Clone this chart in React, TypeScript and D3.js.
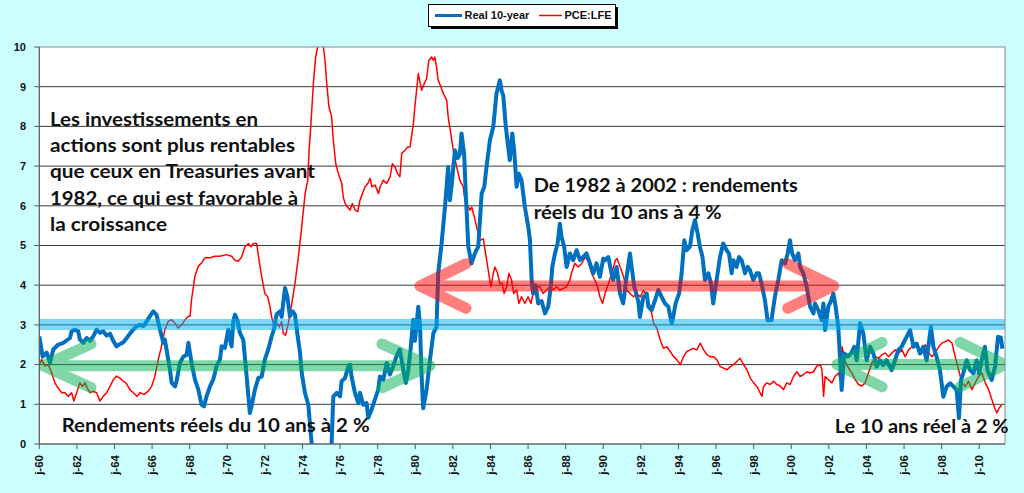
import React from "react";
import * as d3 from "d3";

// Real 10-year Treasury yield (decimal year, %)
const real10y: [number, number][] = [
  [1960.0, 2.71], [1960.18, 2.2], [1960.39, 2.3], [1960.57, 2.05], [1960.74, 2.38], [1961.0, 2.5],
  [1961.28, 2.55], [1961.63, 2.67], [1961.72, 2.84], [1961.9, 2.88], [1962.07, 2.84], [1962.16, 2.63],
  [1962.34, 2.55], [1962.52, 2.67], [1962.7, 2.6], [1962.87, 2.71], [1963.05, 2.88], [1963.23, 2.8],
  [1963.4, 2.84], [1963.58, 2.73], [1963.76, 2.78], [1963.94, 2.59], [1964.11, 2.46], [1964.29, 2.52],
  [1964.47, 2.56], [1964.65, 2.67], [1964.82, 2.78], [1965.0, 2.88], [1965.18, 2.97], [1965.35, 3.0],
  [1965.53, 2.97], [1965.71, 3.09], [1965.89, 3.22], [1966.06, 3.34], [1966.24, 3.25], [1966.42, 2.88],
  [1966.6, 2.55], [1966.68, 2.63], [1966.95, 1.87], [1967.04, 1.54], [1967.22, 1.45], [1967.31, 1.6],
  [1967.48, 2.04], [1967.66, 2.2], [1967.84, 2.25], [1967.93, 2.55], [1968.1, 2.04], [1968.28, 1.62],
  [1968.46, 1.37], [1968.63, 0.99], [1968.76, 0.95], [1968.9, 1.2], [1969.08, 1.45], [1969.25, 1.62],
  [1969.43, 1.96], [1969.61, 2.13], [1969.7, 2.46], [1969.87, 2.42], [1970.05, 2.88], [1970.14, 2.63],
  [1970.23, 2.46], [1970.32, 3.09], [1970.41, 3.26], [1970.53, 3.13], [1970.67, 2.8], [1970.85, 2.63],
  [1971.03, 1.7], [1971.2, 0.78], [1971.29, 0.95], [1971.47, 1.37], [1971.65, 1.66], [1971.83, 1.7],
  [1972.0, 2.13], [1972.18, 2.38], [1972.36, 2.71], [1972.48, 2.88], [1972.62, 3.26], [1972.8, 3.34],
  [1972.89, 3.2], [1973.07, 3.93], [1973.19, 3.72], [1973.33, 3.22], [1973.48, 3.34], [1973.6, 3.26],
  [1973.72, 2.8], [1973.87, 2.29], [1973.96, 1.79], [1974.13, 1.29], [1974.31, 0.99], [1974.49, 0.0],
  [1974.7, -1.0], [1974.9, -1.8], [1975.1, -2.0], [1975.3, -1.2], [1975.55, 0.0], [1975.64, 1.2],
  [1975.82, 1.29], [1976.0, 1.2], [1976.08, 1.58], [1976.26, 1.66], [1976.44, 1.96], [1976.53, 2.0],
  [1976.61, 1.7], [1976.79, 1.29], [1976.97, 1.03], [1977.06, 1.29], [1977.23, 0.99], [1977.41, 1.03],
  [1977.5, 0.66], [1977.68, 0.87], [1977.85, 1.12], [1978.03, 1.37], [1978.12, 1.7], [1978.3, 1.62],
  [1978.48, 2.04], [1978.65, 1.75], [1978.83, 1.96], [1979.0, 2.21], [1979.18, 2.38], [1979.36, 1.87],
  [1979.5, 1.54], [1979.63, 1.87], [1979.75, 2.38], [1979.89, 3.13], [1979.98, 2.6], [1980.16, 3.46],
  [1980.25, 3.0], [1980.33, 1.78], [1980.42, 0.9], [1980.6, 1.36], [1980.78, 2.11], [1980.96, 2.79],
  [1981.13, 2.95], [1981.22, 4.3], [1981.4, 5.05], [1981.58, 5.97], [1981.75, 6.98], [1981.84, 6.14],
  [1981.93, 6.5], [1982.11, 7.4], [1982.25, 7.2], [1982.37, 7.3], [1982.46, 7.82], [1982.6, 7.3],
  [1982.67, 6.48], [1982.82, 4.97], [1982.99, 4.55], [1983.17, 4.8], [1983.35, 4.97], [1983.53, 6.31],
  [1983.67, 6.48], [1983.79, 6.98], [1983.97, 7.65], [1984.15, 7.99], [1984.32, 8.83], [1984.5, 9.16],
  [1984.59, 8.9], [1984.68, 8.78], [1984.8, 8.07], [1984.94, 7.48], [1985.03, 7.15], [1985.16, 7.82],
  [1985.26, 7.4], [1985.39, 6.48], [1985.51, 6.81], [1985.65, 6.65], [1985.83, 5.97], [1986.01, 5.47],
  [1986.1, 5.13], [1986.19, 4.13], [1986.27, 3.79], [1986.4, 4.0], [1986.54, 3.54], [1986.72, 3.6],
  [1986.9, 3.29], [1987.07, 3.46], [1987.21, 3.96], [1987.29, 4.46], [1987.43, 4.8], [1987.57, 5.05],
  [1987.69, 5.55], [1987.78, 5.22], [1987.92, 4.97], [1988.05, 4.46], [1988.22, 4.8], [1988.4, 4.63],
  [1988.58, 4.88], [1988.76, 4.63], [1988.93, 4.71], [1989.11, 4.8], [1989.29, 4.55], [1989.47, 4.3],
  [1989.64, 4.55], [1989.82, 4.21], [1990.0, 4.67], [1990.09, 4.63], [1990.27, 4.71], [1990.44, 4.3],
  [1990.53, 4.13], [1990.71, 4.46], [1990.89, 3.79], [1991.06, 3.54], [1991.24, 4.2], [1991.42, 4.8],
  [1991.51, 4.46], [1991.65, 3.96], [1991.86, 3.6], [1991.95, 3.2], [1992.13, 3.7], [1992.31, 3.79],
  [1992.4, 3.46], [1992.57, 3.37], [1992.75, 3.62], [1992.93, 3.88], [1993.1, 3.71], [1993.28, 3.54],
  [1993.46, 3.46], [1993.64, 3.04], [1993.72, 3.2], [1993.85, 3.54], [1994.03, 3.79], [1994.17, 4.3],
  [1994.31, 5.13], [1994.43, 4.88], [1994.61, 4.97], [1994.74, 5.39], [1994.88, 5.64], [1995.02, 5.3],
  [1995.14, 4.97], [1995.28, 4.71], [1995.41, 4.13], [1995.59, 4.3], [1995.73, 4.04], [1995.85, 3.54],
  [1996.03, 4.13], [1996.21, 4.71], [1996.38, 5.05], [1996.56, 4.88], [1996.69, 4.8], [1996.83, 4.3],
  [1996.92, 4.63], [1997.09, 4.46], [1997.22, 4.71], [1997.36, 4.63], [1997.54, 4.3], [1997.68, 4.46],
  [1997.8, 4.38], [1997.98, 4.13], [1998.16, 4.3], [1998.28, 4.3], [1998.42, 4.04], [1998.6, 3.62],
  [1998.74, 3.12], [1998.95, 3.12], [1999.13, 3.71], [1999.31, 4.13], [1999.49, 4.63], [1999.67, 4.55],
  [1999.81, 4.8], [1999.93, 5.13], [2000.05, 4.8], [2000.2, 4.63], [2000.38, 4.8], [2000.47, 4.46],
  [2000.64, 4.3], [2000.82, 3.96], [2001.0, 3.46], [2001.18, 3.29], [2001.26, 3.54], [2001.44, 3.37],
  [2001.62, 3.12], [2001.71, 3.54], [2001.8, 2.87], [2001.97, 3.46], [2002.11, 3.6], [2002.24, 3.79],
  [2002.36, 3.46], [2002.5, 2.95], [2002.59, 2.2], [2002.68, 1.36], [2002.82, 2.28], [2003.0, 2.2],
  [2003.18, 2.28], [2003.35, 2.45], [2003.48, 2.11], [2003.66, 3.04], [2003.83, 2.79], [2004.01, 2.11],
  [2004.19, 2.45], [2004.37, 2.28], [2004.54, 1.95], [2004.72, 2.11], [2004.9, 1.99], [2005.07, 2.11],
  [2005.34, 1.86], [2005.52, 2.11], [2005.7, 2.37], [2005.87, 2.45], [2006.05, 2.62], [2006.32, 2.87],
  [2006.5, 2.45], [2006.67, 2.53], [2006.85, 2.28], [2007.03, 2.45], [2007.2, 2.11], [2007.43, 2.95],
  [2007.56, 2.45], [2007.73, 2.2], [2007.91, 1.86], [2008.09, 1.19], [2008.27, 1.45], [2008.45, 1.53],
  [2008.62, 1.45], [2008.8, 1.36], [2008.92, 0.65], [2009.03, 1.61], [2009.15, 1.78], [2009.33, 2.11],
  [2009.51, 1.86], [2009.69, 1.78], [2009.86, 2.11], [2009.99, 1.78], [2010.13, 2.11], [2010.3, 2.45],
  [2010.44, 1.86], [2010.66, 1.61], [2010.84, 1.95], [2011.0, 2.7], [2011.15, 2.68], [2011.23, 2.4],
];

// PCE less food & energy, yoy (decimal year, %)
const pceLfe: [number, number][] = [
  [1960.0, 2.0], [1960.12, 2.13], [1960.3, 1.96], [1960.48, 2.0], [1960.66, 1.79], [1960.83, 1.54],
  [1961.0, 1.41], [1961.2, 1.29], [1961.37, 1.29], [1961.55, 1.2], [1961.72, 1.29], [1961.84, 1.08],
  [1961.99, 1.29], [1962.16, 1.54], [1962.3, 1.45], [1962.43, 1.54], [1962.55, 1.41], [1962.7, 1.29],
  [1962.87, 1.33], [1963.05, 1.29], [1963.23, 1.08], [1963.4, 1.2], [1963.58, 1.29], [1963.76, 1.45],
  [1963.94, 1.62], [1964.11, 1.71], [1964.29, 1.66], [1964.47, 1.58], [1964.61, 1.54], [1964.82, 1.37],
  [1965.0, 1.29], [1965.21, 1.2], [1965.35, 1.29], [1965.57, 1.25], [1965.8, 1.33], [1965.97, 1.45],
  [1966.15, 1.71], [1966.33, 2.13], [1966.5, 2.46], [1966.68, 2.88], [1966.86, 3.09], [1967.04, 3.13],
  [1967.22, 3.04], [1967.39, 2.92], [1967.57, 3.0], [1967.75, 3.13], [1967.93, 3.22], [1968.02, 3.22],
  [1968.1, 3.64], [1968.28, 4.23], [1968.46, 4.48], [1968.63, 4.56], [1968.81, 4.69], [1969.08, 4.69],
  [1969.35, 4.73], [1969.61, 4.73], [1969.96, 4.77], [1970.23, 4.73], [1970.41, 4.63], [1970.58, 4.6],
  [1970.76, 4.71], [1970.94, 4.97], [1971.12, 5.05], [1971.26, 4.97], [1971.38, 5.05], [1971.56, 5.05],
  [1971.65, 4.76], [1971.83, 4.21], [1972.0, 3.79], [1972.15, 3.71], [1972.27, 3.46], [1972.36, 3.2],
  [1972.5, 2.95], [1972.63, 3.04], [1972.77, 2.95], [1972.89, 3.08], [1972.98, 2.78], [1973.1, 2.74],
  [1973.25, 3.04], [1973.43, 3.54], [1973.6, 4.04], [1973.78, 4.71], [1973.96, 5.47], [1974.14, 6.31],
  [1974.28, 6.64], [1974.35, 7.4], [1974.45, 8.07], [1974.58, 9.08], [1974.7, 9.75], [1974.81, 10.0],
  [1974.93, 10.1], [1975.11, 10.0], [1975.2, 9.66], [1975.29, 9.08], [1975.41, 8.49], [1975.55, 8.24],
  [1975.64, 7.65], [1975.77, 7.06], [1975.91, 6.81], [1976.09, 6.56], [1976.17, 6.22], [1976.26, 6.06],
  [1976.4, 5.97], [1976.53, 5.89], [1976.65, 6.06], [1976.79, 5.9], [1976.94, 5.85], [1977.06, 6.14],
  [1977.19, 6.31], [1977.33, 6.48], [1977.47, 6.56], [1977.6, 6.69], [1977.69, 6.48], [1977.86, 6.52],
  [1978.04, 6.31], [1978.13, 6.48], [1978.3, 6.64], [1978.48, 6.56], [1978.66, 6.73], [1978.78, 7.06],
  [1978.92, 6.98], [1979.06, 6.81], [1979.18, 6.73], [1979.28, 7.32], [1979.45, 7.4], [1979.6, 7.48],
  [1979.72, 7.48], [1979.9, 8.07], [1979.98, 8.5], [1980.16, 9.33], [1980.34, 8.91], [1980.48, 9.08],
  [1980.6, 9.2], [1980.72, 9.66], [1980.87, 9.75], [1980.96, 9.66], [1981.04, 9.75], [1981.13, 9.5],
  [1981.22, 9.16], [1981.36, 9.0], [1981.49, 8.83], [1981.67, 8.66], [1981.75, 8.24], [1981.89, 7.82],
  [1982.02, 7.4], [1982.2, 6.98], [1982.37, 6.64], [1982.55, 6.48], [1982.64, 6.14], [1982.73, 6.06],
  [1982.91, 5.89], [1983.0, 5.97], [1983.14, 5.72], [1983.26, 5.47], [1983.44, 5.13], [1983.62, 5.17],
  [1983.74, 4.8], [1983.88, 4.38], [1984.02, 3.96], [1984.15, 4.3], [1984.24, 4.46], [1984.38, 4.3],
  [1984.5, 4.04], [1984.62, 4.04], [1984.73, 3.79], [1984.86, 3.96], [1984.98, 4.3], [1985.12, 4.13],
  [1985.24, 3.79], [1985.39, 3.88], [1985.51, 3.54], [1985.65, 3.71], [1985.83, 3.54], [1986.0, 3.71],
  [1986.15, 3.54], [1986.27, 3.79], [1986.45, 3.96], [1986.63, 3.96], [1986.8, 3.79], [1986.98, 3.88],
  [1987.16, 3.96], [1987.34, 3.88], [1987.51, 3.96], [1987.69, 3.88], [1987.87, 3.92], [1988.05, 3.96],
  [1988.22, 4.13], [1988.31, 4.3], [1988.49, 4.55], [1988.67, 4.46], [1988.85, 4.54], [1989.04, 4.71],
  [1989.2, 4.6], [1989.38, 4.3], [1989.55, 4.13], [1989.7, 3.96], [1989.82, 3.71], [1989.96, 3.54],
  [1990.1, 3.8], [1990.28, 4.04], [1990.46, 4.3], [1990.64, 4.63], [1990.73, 4.67], [1990.9, 4.46],
  [1991.08, 4.21], [1991.26, 3.87], [1991.43, 3.79], [1991.61, 3.71], [1991.79, 3.79], [1991.97, 3.71],
  [1992.14, 3.87], [1992.32, 3.71], [1992.5, 3.46], [1992.68, 3.04], [1992.85, 2.92], [1993.03, 2.62],
  [1993.2, 2.41], [1993.38, 2.45], [1993.56, 2.33], [1993.74, 2.2], [1993.92, 2.12], [1994.1, 2.0],
  [1994.27, 2.2], [1994.45, 2.33], [1994.63, 2.37], [1994.8, 2.41], [1994.98, 2.37], [1995.16, 2.54],
  [1995.34, 2.37], [1995.51, 2.25], [1995.69, 2.2], [1995.87, 2.2], [1996.05, 2.12], [1996.22, 1.95],
  [1996.4, 1.91], [1996.58, 1.87], [1996.76, 1.95], [1996.93, 2.0], [1997.1, 2.08], [1997.28, 2.16],
  [1997.46, 2.0], [1997.64, 1.87], [1997.82, 1.66], [1998.0, 1.54], [1998.17, 1.45], [1998.35, 1.28],
  [1998.44, 1.2], [1998.53, 1.45], [1998.7, 1.54], [1998.88, 1.5], [1999.06, 1.58], [1999.23, 1.5],
  [1999.41, 1.46], [1999.59, 1.37], [1999.76, 1.54], [1999.94, 1.5], [2000.12, 1.7], [2000.3, 1.82],
  [2000.47, 1.7], [2000.65, 1.75], [2000.83, 1.82], [2001.0, 1.79], [2001.18, 1.82], [2001.36, 1.96],
  [2001.54, 2.0], [2001.63, 1.87], [2001.72, 1.2], [2001.8, 1.7], [2001.98, 1.62], [2002.16, 1.54],
  [2002.33, 1.7], [2002.51, 1.79], [2002.6, 1.62], [2002.7, 2.45], [2002.87, 2.08], [2003.05, 1.91],
  [2003.22, 1.79], [2003.4, 1.62], [2003.58, 1.5], [2003.76, 1.46], [2003.93, 1.54], [2004.11, 1.79],
  [2004.29, 2.04], [2004.47, 2.2], [2004.64, 2.16], [2004.82, 2.25], [2005.0, 2.29], [2005.18, 2.2],
  [2005.35, 2.29], [2005.53, 2.37], [2005.71, 2.29], [2005.89, 2.37], [2006.06, 2.2], [2006.24, 2.37],
  [2006.42, 2.45], [2006.6, 2.54], [2006.77, 2.37], [2006.95, 2.29], [2007.13, 2.5], [2007.31, 2.29],
  [2007.48, 2.2], [2007.66, 2.29], [2007.84, 2.45], [2008.01, 2.54], [2008.19, 2.58], [2008.37, 2.62],
  [2008.55, 2.54], [2008.72, 2.2], [2008.9, 1.87], [2009.08, 1.54], [2009.26, 1.45], [2009.43, 1.58],
  [2009.61, 1.37], [2009.79, 1.54], [2009.96, 1.7], [2010.14, 1.79], [2010.32, 1.54], [2010.5, 1.37],
  [2010.67, 1.12], [2010.85, 0.87], [2010.94, 0.78], [2011.06, 0.91], [2011.2, 0.99],
];

const yTicks = [0, 1, 2, 3, 4, 5, 6, 7, 8, 9, 10];
const xTickYears = d3.range(1960, 2012, 2);

// annotation arrows: start / end year, level, head length (years), head spread (value)
const arrows = [
  { from: 1960.2, to: 1980.78, value: 1.97, head: 2.55, spread: 0.55, color: "#00b050" },
  { from: 1980.25, to: 2002.26, value: 3.98, head: 2.45, spread: 0.56, color: "#ff0000" },
  { from: 2002.43, to: 2011.38, value: 2.0, head: 2.4, spread: 0.56, color: "#00b050" },
];

const notes = [
  { year: 1960.57, value: 8.02, text: "Les investissements en", len: 208 },
  { year: 1960.57, value: 7.35, text: "actions sont plus rentables", len: 245 },
  { year: 1960.57, value: 6.69, text: "que ceux en Treasuries avant", len: 265 },
  { year: 1960.57, value: 6.03, text: "1982, ce qui est favorable à", len: 248 },
  { year: 1960.57, value: 5.37, text: "la croissance", len: 117 },
  { year: 1986.3, value: 6.34, text: "De 1982 à 2002 : rendements", len: 264 },
  { year: 1986.3, value: 5.68, text: "réels du 10 ans à 4 %", len: 188 },
  { year: 1961.19, value: 0.31, text: "Rendements réels du 10 ans à 2 %", len: 308 },
  { year: 2002.31, value: 0.27, text: "Le 10 ans réel à 2 %", len: 174 },
];

const W = 1024;
const H = 493;
const plot = { left: 39.3, right: 1005, top: 47, bottom: 444 };

export default function App() {
  const x = d3.scaleLinear().domain([1960, 2011.37]).range([plot.left, plot.right]);
  const y = d3.scaleLinear().domain([0, 10]).range([plot.bottom, plot.top]);
  const line = d3
    .line<[number, number]>()
    .x((d) => x(d[0]))
    .y((d) => y(d[1]));

  const arrowPath = (a: (typeof arrows)[number]) => {
    const x1 = x(a.from);
    const x2 = x(a.to);
    const yc = y(a.value);
    const xh1 = x(a.from + a.head);
    const xh2 = x(a.to - a.head);
    const up = y(a.value + a.spread);
    const dn = y(a.value - a.spread);
    return `M${x1},${yc}L${x2},${yc}M${xh1},${up}L${x1},${yc}L${xh1},${dn}M${xh2},${up}L${x2},${yc}L${xh2},${dn}`;
  };

  const axisFont = "Arial, 'Liberation Sans', sans-serif";
  const noteFont = "Lato, 'Open Sans', sans-serif";

  return (
    <svg
      width={W}
      height={H}
      style={{ position: "fixed", left: 0, top: 0 }}
      fontFamily={axisFont}
    >
      <defs>
        <clipPath id="plotClip">
          <rect x={plot.left} y={plot.top} width={plot.right - plot.left} height={plot.bottom - plot.top} />
        </clipPath>
      </defs>
      <rect width={W} height={H} fill="#ccffff" />
      <rect
        x={plot.left}
        y={plot.top}
        width={plot.right - plot.left}
        height={plot.bottom - plot.top}
        fill="#ffffff"
      />

      {/* gridlines + y ticks */}
      {yTicks.map((t) => (
        <g key={t}>
          {t > 0 && t < 10 && (
            <line x1={plot.left} x2={plot.right} y1={y(t)} y2={y(t)} stroke="#3a3a3a" strokeWidth={1} />
          )}
          <line x1={plot.left - 5} x2={plot.left} y1={y(t)} y2={y(t)} stroke="#555" />
          <text
            x={26}
            y={y(t)}
            dy="0.35em"
            textAnchor="end"
            fontSize={11}
            fontWeight="bold"
            fill="#111"
          >
            {t}
          </text>
        </g>
      ))}

      {/* x ticks */}
      {xTickYears.map((yr) => (
        <g key={yr}>
          <line x1={x(yr)} x2={x(yr)} y1={plot.bottom} y2={plot.bottom + 5} stroke="#555" />
          <text
            transform={`translate(${x(yr)},${plot.bottom + 11}) rotate(-90)`}
            dy="0.36em"
            textAnchor="end"
            fontSize={11.5}
            fontWeight="bold"
            fill="#111"
          >
            {`j-${String(yr % 100).padStart(2, "0")}`}
          </text>
        </g>
      ))}

      <g clipPath="url(#plotClip)">
        <path d={line(pceLfe) ?? ""} fill="none" stroke="#ff0000" strokeWidth={1.5} strokeLinejoin="round" />
        <path d={line(real10y) ?? ""} fill="none" stroke="#0070c0" strokeWidth={4} strokeLinejoin="round" />

        {/* 3% band */}
        <rect
          x={plot.left}
          y={y(3.15)}
          width={plot.right - plot.left}
          height={y(2.87) - y(3.15)}
          fill="#00b0f0"
          opacity={0.5}
        />

        {arrows.map((a, i) => (
          <g key={i} opacity={0.5}>
            <path
              d={arrowPath(a)}
              fill="none"
              stroke={a.color}
              strokeWidth={11}
              strokeLinecap="round"
              strokeLinejoin="round"
            />
          </g>
        ))}
      </g>

      {/* plot border */}
      <rect
        x={plot.left}
        y={plot.top}
        width={plot.right - plot.left}
        height={plot.bottom - plot.top}
        fill="none"
        stroke="#888"
        strokeWidth={1}
      />
      <line x1={plot.left} x2={plot.left} y1={plot.top} y2={plot.bottom} stroke="#555" />
      <line x1={plot.left} x2={plot.right} y1={plot.bottom} y2={plot.bottom} stroke="#555" />

      {notes.map((n, i) => (
        <text
          key={i}
          x={x(n.year)}
          y={y(n.value)}
          fontFamily={noteFont}
          fontSize={19}
          fontWeight="bold"
          fill="#111"
          textLength={n.len}
          lengthAdjust="spacingAndGlyphs"
        >
          {n.text}
        </text>
      ))}

      {/* legend */}
      <g>
        <rect x={431} y={7} width={187} height={22} fill="#000" />
        <rect x={428.5} y={4.5} width={187} height={22} fill="#fff" stroke="#000" strokeWidth={1} />
        <line x1={435} x2={462} y1={15.5} y2={15.5} stroke="#0070c0" strokeWidth={3} />
        <text x={464.5} y={15.5} dy="0.36em" fontSize={11} fontWeight="bold" fill="#111">
          Real 10-year
        </text>
        <line x1={539} x2={562} y1={15.5} y2={15.5} stroke="#ff0000" strokeWidth={1.5} />
        <text x={564.5} y={15.5} dy="0.36em" fontSize={11} fontWeight="bold" fill="#111">
          PCE:LFE
        </text>
      </g>
    </svg>
  );
}
